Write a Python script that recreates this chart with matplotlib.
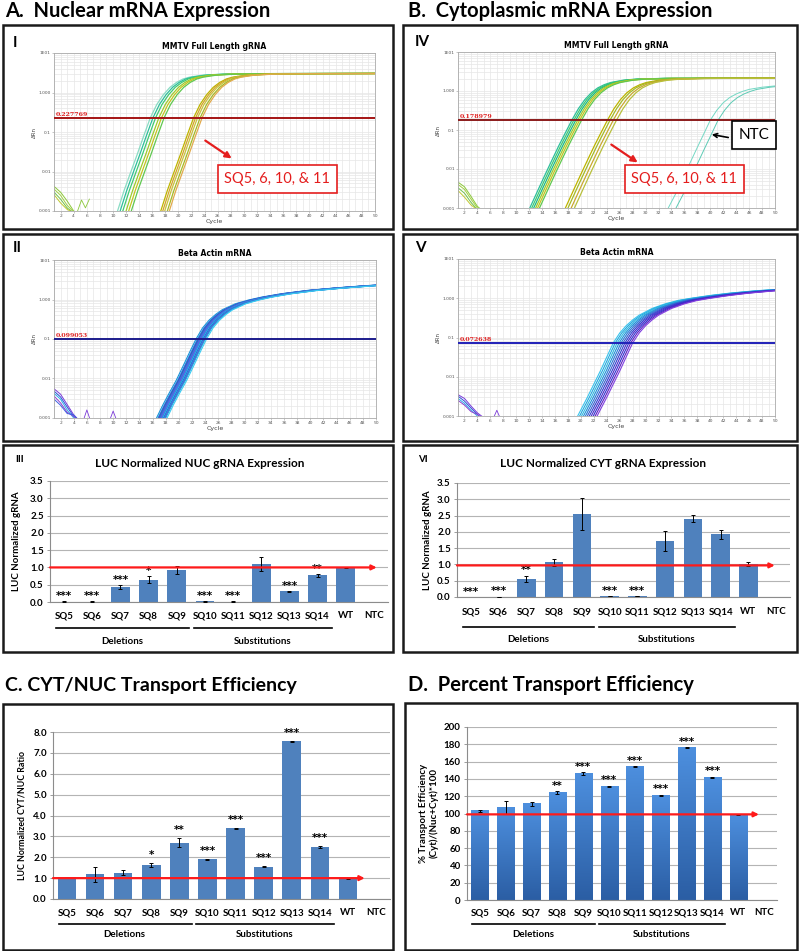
import numpy as np
import matplotlib
matplotlib.use('Agg')
import matplotlib.pyplot as plt
import matplotlib.transforms as mtrans
from matplotlib.patches import Rectangle, FancyArrowPatch
from matplotlib.colors import LinearSegmentedColormap

plt.rcParams['font.family'] = ['Lato', 'DejaVu Sans']

# ---------------- qPCR amplification data ----------------
# template traces: cycle offset from the threshold crossing (Ct) and delta Rn
tmpl_I_off = [-5, -4, -3, -2, -1, 0, 1, 2, 3, 4, 5, 6, 8, 11, 15, 40]
tmpl_I_val = [0.001, 0.0033, 0.0095, 0.027, 0.08, 0.228, 0.5, 0.88, 1.35, 1.8, 2.2, 2.45, 2.75, 2.92, 3.0, 3.05]
ct_I_fast = [15.7, 16.1, 16.5, 17.0, 17.4, 17.8]
col_I_fast = ['#8adcc4', '#2dbf9c', '#3fca72', '#9ccc2c', '#c4c41e', '#60c850']
ct_I_slow = [22.3, 22.6, 22.9, 23.3, 23.6]
col_I_slow = ['#bdb400', '#d4a42a', '#c9c23c', '#a4ba26', '#e2aa4c']

tmpl_IV_off = [-6.5, -5, -4, -3, -2, -1, 0, 1, 2, 3, 4, 5, 6, 8, 10, 14, 35]
tmpl_IV_val = [0.001, 0.0035, 0.008, 0.018, 0.04, 0.085, 0.179, 0.35, 0.6, 0.9, 1.2, 1.45, 1.65, 1.9, 2.02, 2.1, 2.15]
ct_IV_fast = [18.6, 18.9, 19.2, 19.5, 19.8, 20.1]
col_IV_fast = ['#2dbf9c', '#3fca72', '#1fb88a', '#9ccc2c', '#c4c41e', '#60c850']
ct_IV_slow = [24.1, 24.5, 25.0, 25.5]
col_IV_slow = ['#bdb400', '#a4ba26', '#c9a830', '#b8c03c']
tmpl_ntc_off = [-6.5, -5, -4, -3, -2, -1, 0, 1, 2, 3, 4, 5, 6, 8, 10]
tmpl_ntc_val = [0.001, 0.003, 0.007, 0.016, 0.036, 0.08, 0.179, 0.32, 0.5, 0.68, 0.84, 0.98, 1.1, 1.25, 1.35]
ct_ntc = [40.0, 41.2]
col_ntc = ['#74d8c4', '#5ccab4']

tmpl_II_off = [-6, -5, -4, -3, -2, -1, 0, 1, 2, 3, 4, 6, 8, 10, 13, 17, 21, 26, 30]
tmpl_II_val = [0.001, 0.0022, 0.0045, 0.009, 0.02, 0.045, 0.099, 0.19, 0.3, 0.42, 0.55, 0.78, 0.97, 1.15,
               1.4, 1.7, 1.95, 2.25, 2.4]
ct_II = [22.6, 22.8, 22.9, 23.0, 23.1, 23.2, 23.3, 23.4, 23.5, 23.6, 23.7, 23.8, 23.9, 24.0, 24.2]
col_II = ['#1e90d8', '#29b6e8', '#3a5fcd', '#5b2bc0', '#00a0d0', '#4169e1', '#8a2be2', '#1fa8e0',
          '#2c7fd6', '#33c0f0', '#2a4fd0', '#19b0e6', '#6a3ad0', '#23a4dc', '#3acbf2']

tmpl_V_off = [-5.5, -4, -3, -2, -1, 0, 1, 2, 3, 4, 6, 8, 10, 12, 15, 18, 22, 26]
tmpl_V_val = [0.001, 0.003, 0.0065, 0.014, 0.032, 0.0726, 0.13, 0.2, 0.28, 0.37, 0.55, 0.72, 0.88, 1.0,
              1.18, 1.35, 1.55, 1.7]
ct_V = [25.0, 25.3, 25.6, 25.9, 26.2, 26.5, 26.8, 27.1, 27.4, 27.7, 28.0]
col_V = ['#3ac4ec', '#22a8e0', '#30b8e0', '#1e90d8', '#2a7ad8', '#3a5fcd', '#2f3fd0', '#4a2cc8',
         '#3030d0', '#6020c0', '#8040e0']

# baseline noise at the start of each run
noise_x = [1, 2, 3, 4, 5]
noise_I = [[0.0042, 0.003, 0.0018, 0.001, 0.0008], [0.0036, 0.0025, 0.0014, 0.00095, 0.0008],
           [0.003, 0.002, 0.0012, 0.0009, 0.0008], [0.0026, 0.0016, 0.0011, 0.0009, 0.0008]]
noise_IV = [[0.0046, 0.0035, 0.002, 0.0011, 0.0008], [0.004, 0.003, 0.0017, 0.001, 0.0008],
            [0.0033, 0.0024, 0.0014, 0.0009, 0.0008], [0.0028, 0.0019, 0.0012, 0.0009, 0.0008]]
noise_II = [[0.0055, 0.004, 0.0022, 0.0012, 0.0008], [0.0048, 0.0034, 0.0019, 0.0011, 0.0008],
            [0.0042, 0.003, 0.0016, 0.001, 0.0008], [0.0036, 0.0024, 0.0014, 0.0011, 0.0008],
            [0.003, 0.0021, 0.0013, 0.0012, 0.0008]]
noise_V = [[0.0035, 0.0028, 0.0018, 0.0012, 0.0009], [0.0032, 0.0024, 0.0016, 0.0011, 0.0008],
           [0.0028, 0.0021, 0.0014, 0.001, 0.0008], [0.0025, 0.0019, 0.0013, 0.0011, 0.0008]]
spike_I = [[4.5, 5.2, 5.8, 6.4], [0.0009, 0.0019, 0.0012, 0.002]]
spike_II = [[5.5, 6.0, 6.5, 9.5, 10.0, 10.5], [0.0009, 0.0016, 0.0009, 0.0009, 0.0015, 0.0009]]
spike_V = [[6.5, 7.0, 7.5], [0.0009, 0.0014, 0.0009]]

thr_I, thr_IV, thr_II, thr_V = 0.227769, 0.178979, 0.099053, 0.072638

# ---------------- bar chart data ----------------
categories = ['SQ5', 'SQ6', 'SQ7', 'SQ8', 'SQ9', 'SQ10', 'SQ11', 'SQ12', 'SQ13', 'SQ14', 'WT', 'NTC']
nuc_val = [0.01, 0.01, 0.43, 0.65, 0.93, 0.02, 0.01, 1.10, 0.31, 0.77, 1.00, 0.0]
nuc_err = [0.005, 0.005, 0.05, 0.10, 0.11, 0.01, 0.005, 0.20, 0.02, 0.05, 0.02, 0]
nuc_sig = ['***', '***', '***', '*', '', '***', '***', '', '***', '**', '', '']
cyt_val = [0.0, 0.01, 0.56, 1.06, 2.55, 0.03, 0.03, 1.72, 2.41, 1.92, 1.0, 0.0]
cyt_err = [0, 0.005, 0.10, 0.12, 0.50, 0.01, 0.01, 0.30, 0.10, 0.15, 0.06, 0]
cyt_sig = ['***', '***', '**', '', '', '***', '***', '', '', '', '', '']
ratio_val = [1.03, 1.18, 1.25, 1.63, 2.70, 1.90, 3.38, 1.55, 7.55, 2.48, 1.0, 0.0]
ratio_err = [0.03, 0.35, 0.12, 0.10, 0.22, 0.03, 0.02, 0.02, 0.03, 0.06, 0.02, 0]
ratio_sig = ['', '', '', '*', '**', '***', '***', '***', '***', '***', '', '']
pct_val = [103, 107, 111, 124, 146, 131, 154, 121, 176, 142, 99, 0]
pct_err = [0.8, 7, 2, 1.5, 1.5, 0.5, 0.5, 0.7, 0.5, 0.6, 0.8, 0]
pct_sig = ['', '', '', '**', '***', '***', '***', '***', '***', '***', '', '']

W, H = 800, 951
fig = plt.figure(figsize=(8, 9.51), dpi=100)


def rect(x0, y0, x1, y1):
    return [x0 / W, 1 - y1 / H, (x1 - x0) / W, (y1 - y0) / H]


def fx(x):
    return x / W


def fy(y):
    return 1 - y / H


def box(x0, y0, x1, y1):
    fig.add_artist(Rectangle((fx(x0), fy(y1)), (x1 - x0) / W, (y1 - y0) / H, transform=fig.transFigure,
                             fill=False, lw=1.8, ec='#1a1a1a'))


def qpcr(r, title, thr, thr_color, traces, noise, spike, noise_cols):
    ax = fig.add_axes(rect(*r))
    ax.set_yscale('log')
    for off, val, cts, cols, lw in traces:
        for ct, c in zip(cts, cols):
            ax.plot(np.array(off) + ct, val, color=c, lw=lw, solid_capstyle='round')
    for i, n in enumerate(noise):
        ax.plot(noise_x, n, color=noise_cols[i % len(noise_cols)], lw=0.7)
    ax.plot(spike[0], spike[1], color=noise_cols[0], lw=0.6)
    ax.axhline(thr, color=thr_color, lw=1.4, zorder=5)
    ax.text(1.3, thr * 1.08, f'{thr:.6f}', color='#e02020', fontsize=4.5, fontweight='bold',
            family='DejaVu Serif', va='bottom', zorder=6)
    ax.set_xlim(1, 50)
    ax.set_ylim(0.001, 10)
    ax.set_xticks(range(2, 51, 2))
    ax.set_xticks(range(1, 51), minor=True)
    ax.set_yticks([0.001, 0.01, 0.1, 1, 10])
    ax.set_yticklabels(['0.001', '0.01', '0.1', '1.000', '1E01'])
    ax.grid(True, which='both', color='#e6e6e6', lw=0.5)
    ax.set_axisbelow(True)
    ax.tick_params(which='both', length=1.2, width=0.4, pad=1, labelsize=3.2, labelcolor='#555555',
                   color='#999999', labelfontfamily='DejaVu Sans')
    ax.tick_params(which='minor', length=0)
    for s in ax.spines.values():
        s.set_color('#aaaaaa')
        s.set_linewidth(0.6)
    ax.set_xlabel('Cycle', fontsize=4.5, labelpad=1, color='#444444', family='DejaVu Sans')
    ax.set_ylabel('ΔRn', fontsize=4, labelpad=1, color='#444444', family='DejaVu Sans')
    ax.set_title(title, fontsize=5.5, fontweight='bold', family='DejaVu Sans', pad=3)
    return ax


def bar_panel(r, vals, errs, sigs, ylim, yticks, ylabels, ylabel, ylab_size, ylab_x, ref_y, arrow_end,
              star_dy, lab_pad, group_y, gradient=False):
    ax = fig.add_axes(rect(*r))
    x = np.arange(len(categories))
    bars = ax.bar(x, vals, width=0.66, color='#4f81bd', zorder=2)
    if gradient:
        cmap = LinearSegmentedColormap.from_list('bluegrad', ['#2b5ea4', '#4d8fde'])
        grad = np.linspace(0, 1, 100).reshape(-1, 1)
        for b in bars:
            b.set_facecolor('none')
            if b.get_height() > 0:
                ax.imshow(grad, extent=[b.get_x(), b.get_x() + b.get_width(), 0, b.get_height()],
                          origin='lower', aspect='auto', cmap=cmap, zorder=2)
    has_err = [i for i, e in enumerate(errs) if e > 0]
    ax.errorbar([x[i] for i in has_err], [vals[i] for i in has_err], yerr=[errs[i] for i in has_err],
                fmt='none', ecolor='black', elinewidth=0.7, capsize=1.5, capthick=0.7, zorder=3)
    ax.set_xlim(-0.5, 11.5)
    ax.set_ylim(*ylim)
    ax.set_yticks(yticks)
    ax.set_yticklabels(ylabels)
    ax.yaxis.grid(True, color='#b4b4b4', lw=0.8)
    ax.set_axisbelow(True)
    for s in ['top', 'right']:
        ax.spines[s].set_visible(False)
    for s in ['left', 'bottom']:
        ax.spines[s].set_color('#8c8c8c')
        ax.spines[s].set_linewidth(0.8)
    ax.set_xticks(x)
    ax.set_xticklabels(categories, fontweight='bold', fontsize=7)
    ax.tick_params(axis='x', length=0, pad=lab_pad)
    ax.tick_params(axis='y', length=2.5, width=0.6, color='#8c8c8c', pad=2)
    for t in ax.get_yticklabels():
        t.set_fontweight('bold')
        t.set_fontsize(7)
    ax.set_ylabel(ylabel, fontsize=ylab_size, fontweight='bold')
    ax.yaxis.set_label_coords(ylab_x, 0.5)
    ax.annotate('', xy=(arrow_end, ref_y), xytext=(-0.5, ref_y),
                arrowprops=dict(arrowstyle='-|>', color='#ff1a1a', lw=1.6, mutation_scale=7,
                                shrinkA=0, shrinkB=0), zorder=6)
    for i, s in enumerate(sigs):
        if s:
            ax.annotate(s, (i, vals[i] + errs[i]), xytext=(0, star_dy), textcoords='offset points',
                        ha='center', va='baseline', fontsize=7.5, fontweight='bold', family='DejaVu Sans',
                        annotation_clip=False)
    if group_y is not None:
        tr = mtrans.blended_transform_factory(ax.transData, ax.transAxes)
        ly, ty = group_y
        ax.plot([-0.3, 4.45], [ly, ly], color='black', lw=1.2, transform=tr, clip_on=False)
        ax.plot([4.6, 9.5], [ly, ly], color='black', lw=1.2, transform=tr, clip_on=False)
        ax.text(2.05, ty, 'Deletions', transform=tr, ha='center', va='center', fontsize=7, fontweight='bold')
        ax.text(7.05, ty, 'Substitutions', transform=tr, ha='center', va='center', fontsize=7,
                fontweight='bold')
    return ax


# ---------------- section titles and frames ----------------
fig.text(fx(5), fy(11), 'A.  Nuclear mRNA Expression', fontsize=14.5, fontweight='bold', va='center')
fig.text(fx(408), fy(11), 'B.  Cytoplasmic mRNA Expression', fontsize=14.5, fontweight='bold', va='center')
fig.text(fx(5), fy(685), 'C. CYT/NUC Transport Efficiency', fontsize=14, fontweight='bold', va='center')
fig.text(fx(408), fy(685), 'D.  Percent Transport Efficiency', fontsize=14.5, fontweight='bold', va='center')

box(3, 25, 393, 229)
box(403, 25, 797, 229)
box(3, 234, 393, 441)
box(403, 234, 797, 441)
box(3, 445, 393, 652)
box(403, 445, 797, 652)
box(3, 704, 393, 950)
box(405, 703, 797, 950)

fig.text(fx(13), fy(43), 'I', fontsize=11, fontweight='bold', va='center')
fig.text(fx(415), fy(42), 'IV', fontsize=11, fontweight='bold', va='center')
fig.text(fx(13), fy(248), 'II', fontsize=11, fontweight='bold', va='center')
fig.text(fx(415), fy(248), 'V', fontsize=11, fontweight='bold', va='center')
fig.text(fx(15), fy(459), 'III', fontsize=7, fontweight='bold', va='center')
fig.text(fx(418), fy(460), 'VI', fontsize=7, fontweight='bold', va='center')

# ---------------- qPCR panels ----------------
green_noise = ['#8cc83c', '#a0d040', '#70c050', '#c0c830', '#58c070']
blue_noise = ['#7a3ad8', '#3050d8', '#2ab0e8', '#9040d0', '#4060e0']

qpcr((54, 53, 375, 211), 'MMTV Full Length gRNA', thr_I, '#a51414',
     [(tmpl_I_off, tmpl_I_val, ct_I_fast, col_I_fast, 0.9),
      (tmpl_I_off, tmpl_I_val, ct_I_slow, col_I_slow, 0.9)],
     noise_I, spike_I, green_noise)
qpcr((458, 52, 775, 208), 'MMTV Full Length gRNA', thr_IV, '#8b1a1a',
     [(tmpl_IV_off, tmpl_IV_val, ct_IV_fast, col_IV_fast, 0.9),
      (tmpl_IV_off, tmpl_IV_val, ct_IV_slow, col_IV_slow, 0.9),
      (tmpl_ntc_off, tmpl_ntc_val, ct_ntc, col_ntc, 0.7)],
     noise_IV, [[], []], green_noise)
qpcr((54, 260, 376, 418), 'Beta Actin mRNA', thr_II, '#1c1c8c',
     [(tmpl_II_off, tmpl_II_val, ct_II, col_II, 0.8)],
     noise_II, spike_II, blue_noise)
qpcr((458, 259, 775, 416), 'Beta Actin mRNA', thr_V, '#2020b8',
     [(tmpl_V_off, tmpl_V_val, ct_V, col_V, 0.8)],
     noise_V, spike_V, blue_noise)

# callouts on the gRNA panels
for cx, a0, a1 in [(277, (203, 139), (234, 160)), (684, (609, 143), (640, 164))]:
    fig.text(fx(cx), fy(179), 'SQ5, 6, 10, & 11', color='#e41e1e', fontsize=10.5, ha='center', va='center',
             bbox=dict(boxstyle='square,pad=0.45', fc='white', ec='#e41e1e', lw=1.2))
    fig.add_artist(FancyArrowPatch((fx(a0[0]), fy(a0[1])), (fx(a1[0]), fy(a1[1])), transform=fig.transFigure,
                                   arrowstyle='-|>', mutation_scale=9, color='#e41e1e', lw=1.6))
fig.text(fx(754), fy(135), 'NTC', color='black', fontsize=11, ha='center', va='center',
         bbox=dict(boxstyle='square,pad=0.45', fc='white', ec='black', lw=1.2))
fig.add_artist(FancyArrowPatch((fx(731), fy(138)), (fx(709), fy(134)), transform=fig.transFigure,
                               arrowstyle='->', mutation_scale=7, color='black', lw=1.2))

# ---------------- bar panels ----------------
half_ticks = np.arange(0, 3.51, 0.5)
ax3 = bar_panel((50, 481, 388, 602), nuc_val, nuc_err, nuc_sig, (0, 3.5), half_ticks,
                [f'{v:.1f}' for v in half_ticks], 'LUC Normalized gRNA', 7, -0.087, 1.0, 11.1,
                1.5, 6.5, (-0.215, -0.325))
fig.text(fx(200), fy(463), 'LUC Normalized NUC gRNA Expression', fontsize=8.5, fontweight='bold',
         ha='center', va='center')

ax6 = bar_panel((457, 483, 790, 597), cyt_val, cyt_err, cyt_sig, (0, 3.5), half_ticks,
                [f'{v:.1f}' for v in half_ticks], 'LUC Normalized gRNA', 7, -0.076, 0.97, 10.95,
                1.5, 7.5, (-0.263, -0.37))
fig.text(fx(603), fy(463), 'LUC Normalized CYT gRNA Expression', fontsize=8.5, fontweight='bold',
         ha='center', va='center')

one_ticks = np.arange(0, 8.1, 1.0)
axC = bar_panel((53, 732, 390, 899), ratio_val, ratio_err, ratio_sig, (0, 8), one_ticks,
                [f'{v:.1f}' for v in one_ticks], 'LUC Normalized CYT/NUC Ratio', 6.3, -0.078, 1.0, 10.6,
                3.5, 6.5, (-0.15, -0.215))

pct_ticks = np.arange(0, 201, 20)
axD = bar_panel((467, 727, 777, 900), pct_val, pct_err, pct_sig, (0, 200), pct_ticks,
                [f'{v:d}' for v in pct_ticks], '% Transport Efficiency\n(Cyt)/(Nuc+Cyt)*100', 7, -0.09,
                99, 10.8, 2.0, 6.0, (-0.139, -0.197), gradient=True)
axD.set_xlim(-0.5, 11.5)
axD.set_ylim(0, 200)

fig.savefig('out.png', dpi=100)
